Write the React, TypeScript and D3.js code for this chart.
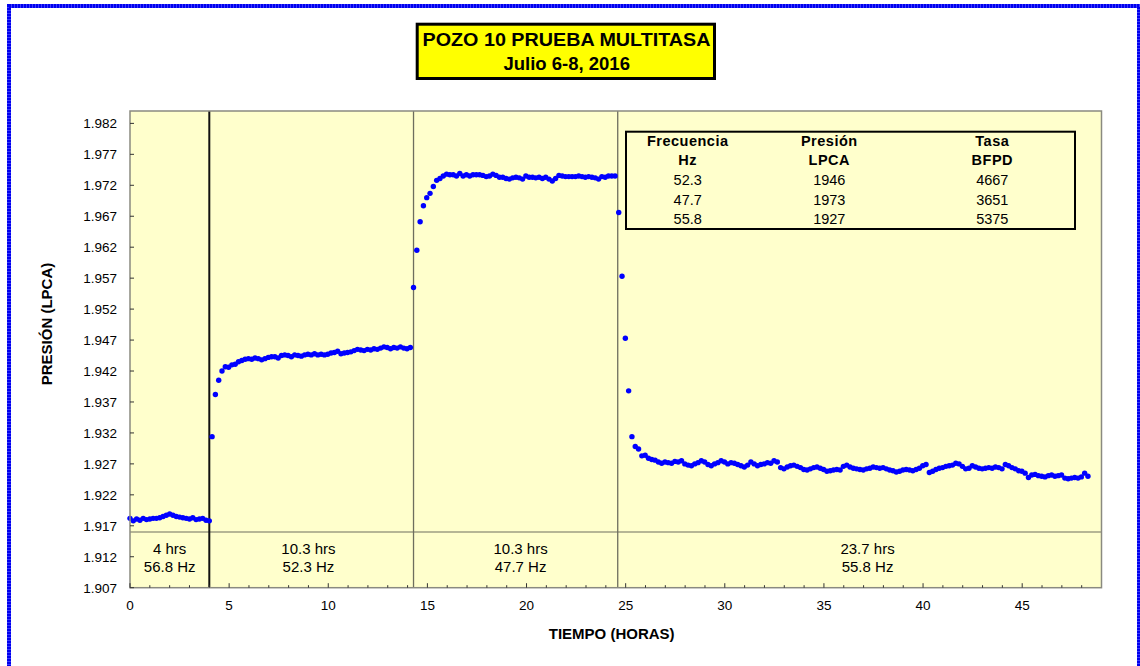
import React from "react";
import * as d3 from "d3";

// ---- data ----
const SAMPLE_STEP_HR = 1 / 6; // 10-minute logging interval

const SEG1_START = 0;
const SEG1 = [
  1.9182, 1.9178, 1.9181, 1.9179, 1.9182, 1.918, 1.9181, 1.9182, 1.9182, 1.9183,
  1.9185, 1.9187, 1.9189, 1.9187, 1.9185, 1.9184, 1.9183, 1.9182, 1.9181, 1.9183,
  1.918, 1.9181, 1.9182, 1.9179, 1.9178,
];

const SEG2_START = 4.14;
const SEG2 = [
  1.9314, 1.9382, 1.9405, 1.942, 1.9427, 1.9426, 1.943, 1.9431, 1.9435, 1.9437,
  1.9439, 1.944, 1.9439, 1.9441, 1.944, 1.9438, 1.944, 1.9442, 1.9443, 1.9443,
  1.9441, 1.9445, 1.9446, 1.9445, 1.9443, 1.9446, 1.9445, 1.9444, 1.9446, 1.9447,
  1.9446, 1.9448, 1.9446, 1.9447, 1.9446, 1.9447, 1.9449, 1.945, 1.9452, 1.9448,
  1.9449, 1.945, 1.9451, 1.9453, 1.9455, 1.9454, 1.9453, 1.9455, 1.9454, 1.9456,
  1.9455, 1.9457, 1.9459, 1.9458, 1.9456, 1.9458, 1.9457, 1.9459, 1.9457, 1.9456,
  1.9458,
];

const SEG3_START = 14.3;
const SEG3 = [
  1.9555, 1.9615, 1.9661, 1.9687, 1.97, 1.9707, 1.9718, 1.9728, 1.9731, 1.9735,
  1.9738, 1.9737, 1.9737, 1.9735, 1.9739, 1.9735, 1.9737, 1.9735, 1.9737, 1.9737,
  1.9737, 1.9736, 1.9734, 1.9735, 1.9738, 1.9736, 1.9733, 1.9733, 1.9731, 1.973,
  1.9732, 1.9733, 1.9732, 1.973, 1.9735, 1.9733, 1.9733, 1.9732, 1.9733, 1.9731,
  1.9733, 1.973, 1.9727, 1.9731, 1.9736, 1.9735, 1.9734, 1.9734, 1.9734, 1.9734,
  1.9735, 1.9734, 1.9733, 1.9734, 1.9733, 1.9732, 1.973, 1.9734, 1.9733, 1.9735,
  1.9735, 1.9735,
];

const SEG4_START = 24.65;
const SEG4 = [
  1.9676, 1.9573, 1.9473, 1.9388, 1.9314, 1.9298, 1.9294, 1.9283, 1.9284, 1.9279,
  1.9277, 1.9276, 1.9273, 1.9271, 1.9273, 1.9272, 1.9271, 1.9274, 1.9273, 1.9275,
  1.927, 1.9268, 1.9267, 1.927, 1.9272, 1.9275, 1.9273, 1.9269, 1.9267, 1.927,
  1.9272, 1.9275, 1.9273, 1.927, 1.9272, 1.9271, 1.9269, 1.9267, 1.9265, 1.9268,
  1.9273, 1.927, 1.9267, 1.9269, 1.927, 1.9272, 1.9271, 1.9275, 1.9273, 1.9264,
  1.9262, 1.9265, 1.9267, 1.9268, 1.9266, 1.9264, 1.9261, 1.926, 1.9262, 1.9264,
  1.9265, 1.9263, 1.9261, 1.9258, 1.9259, 1.926, 1.9261, 1.926, 1.9266, 1.9268,
  1.9265, 1.9263, 1.9262, 1.9261, 1.926, 1.9262, 1.9263, 1.9265, 1.9264, 1.9263,
  1.9264, 1.9262, 1.926, 1.9259, 1.9257, 1.9258, 1.926, 1.9261, 1.926, 1.9259,
  1.9261, 1.9263, 1.9267, 1.9269, 1.9256, 1.9258, 1.9261, 1.9263, 1.9264, 1.9266,
  1.9267, 1.9268, 1.9271, 1.927, 1.9266, 1.9262, 1.9263, 1.9267, 1.9265, 1.9263,
  1.9262, 1.9263, 1.9264, 1.9263, 1.9265, 1.9264, 1.9262, 1.9269, 1.9267, 1.9264,
  1.9262, 1.9259, 1.9258, 1.9255, 1.9248, 1.9252, 1.9253, 1.9251, 1.925, 1.9249,
  1.9251, 1.9252, 1.925, 1.9251, 1.9252, 1.9247, 1.9246, 1.9247, 1.9248, 1.9247,
  1.9249, 1.9255, 1.925,
];

const RATE_CHANGE_HRS = [4, 14.3, 24.6];
const SEPARATOR_PRESSURE = 1.916;

const PERIOD_CENTER_HRS = [2, 9.0, 19.7, 37.2];
const PERIOD_DURATIONS = ["4 hrs", "10.3 hrs", "10.3 hrs", "23.7 hrs"];
const PERIOD_FREQS = ["56.8 Hz", "52.3 Hz", "47.7 Hz", "55.8 Hz"];

const TABLE_HEAD_1 = ["Frecuencia", "Presión", "Tasa"];
const TABLE_HEAD_2 = ["Hz", "LPCA", "BFPD"];
const TABLE_FREQ = ["52.3", "47.7", "55.8"];
const TABLE_PRES = ["1946", "1973", "1927"];
const TABLE_RATE = ["4667", "3651", "5375"];

const X_TICKS = [0, 5, 10, 15, 20, 25, 30, 35, 40, 45];
const X_MINOR = d3.range(0, 49, 1);
const Y_TICKS = [
  1.907, 1.912, 1.917, 1.922, 1.927, 1.932, 1.937, 1.942, 1.947, 1.952, 1.957,
  1.962, 1.967, 1.972, 1.977, 1.982,
];

const TITLE_1 = "POZO 10 PRUEBA MULTITASA";
const TITLE_2 = "Julio 6-8, 2016";
const X_TITLE = "TIEMPO (HORAS)";
const Y_TITLE = "PRESIÓN (LPCA)";

// ---- layout ----
const W = 1140;
const H = 666;
const PL = 130;
const PR = 1101.5;
const PT = 111;
const PB = 587.7;
const FONT = "Arial, 'Liberation Sans', Helvetica, sans-serif";

export default function App() {
  const x = d3.scaleLinear().domain([0, 49]).range([PL, PR]);
  const y = d3.scaleLinear().domain([1.907, 1.984]).range([PB, PT]);

  const segments = [
    { start: SEG1_START, values: SEG1 },
    { start: SEG2_START, values: SEG2 },
    { start: SEG3_START, values: SEG3 },
    { start: SEG4_START, values: SEG4 },
  ];
  const points = segments.flatMap((s) =>
    s.values.map((v, i) => ({ t: s.start + i * SAMPLE_STEP_HR, v }))
  );
  const fmtY = d3.format(".3f");

  const colX = [687.7, 829.3, 992.3];
  const tableRows = TABLE_FREQ.map((f, i) => [f, TABLE_PRES[i], TABLE_RATE[i]]);

  return (
    <svg
      width={W}
      height={H}
      style={{ position: "absolute", left: 0, top: 0, display: "block", background: "#fff" }}
      fontFamily={FONT}
    >
      <rect x={0} y={0} width={W} height={H} fill="#fff" />
      {/* outer border */}
      <rect x={9} y={6} width={1130} height={720} fill="none" stroke="#3c3cff" strokeWidth={4} />
      <rect
        x={9}
        y={6}
        width={1130}
        height={720}
        fill="none"
        stroke="#0000ee"
        strokeWidth={4}
        strokeDasharray="2 1"
      />

      {/* plot area */}
      <rect x={PL} y={PT} width={PR - PL} height={PB - PT} fill="#FFFFCC" />

      {/* separator line */}
      <line x1={PL} x2={PR} y1={y(SEPARATOR_PRESSURE)} y2={y(SEPARATOR_PRESSURE)} stroke="#6e6e5e" strokeWidth={1.2} />

      {/* rate change lines */}
      {RATE_CHANGE_HRS.map((t, i) => (
        <line
          key={i}
          x1={x(t)}
          x2={x(t)}
          y1={PT}
          y2={PB}
          stroke={i === 0 ? "#111" : "#6e6e5e"}
          strokeWidth={i === 0 ? 2 : 1.3}
        />
      ))}

      {/* points */}
      {points.map((p, i) => (
        <circle key={i} cx={x(p.t)} cy={y(p.v)} r={2.7} fill="#0000FF" />
      ))}

      {/* frame */}
      <rect x={PL} y={PT} width={PR - PL} height={PB - PT} fill="none" stroke="#8a8a80" strokeWidth={1.5} />

      {/* x ticks */}
      {X_MINOR.map((t) => (
        <line key={"m" + t} x1={x(t)} x2={x(t)} y1={PB} y2={PB - (t % 5 === 0 ? 4.5 : 2.5)} stroke="#333" strokeWidth={1} />
      ))}
      {X_TICKS.map((t) => (
        <text key={"xl" + t} x={x(t)} y={609.5} fontSize={13.5} textAnchor="middle" fill="#000">
          {t}
        </text>
      ))}

      {/* y ticks */}
      {Y_TICKS.map((v) => (
        <g key={"y" + v}>
          <line x1={PL} x2={PL + 4} y1={y(v)} y2={y(v)} stroke="#333" strokeWidth={1} />
          <text x={117} y={y(v) + 5} fontSize={13.5} textAnchor="end" fill="#000">
            {fmtY(v)}
          </text>
        </g>
      ))}

      {/* period labels */}
      {PERIOD_CENTER_HRS.map((t, i) => (
        <g key={"p" + i}>
          <text x={x(t)} y={554} fontSize={15} textAnchor="middle" fill="#000">
            {PERIOD_DURATIONS[i]}
          </text>
          <text x={x(t)} y={571.7} fontSize={15} textAnchor="middle" fill="#000">
            {PERIOD_FREQS[i]}
          </text>
        </g>
      ))}

      {/* axis titles */}
      <text x={611.7} y={639.3} fontSize={15} fontWeight="bold" textAnchor="middle" fill="#000">
        {X_TITLE}
      </text>
      <text
        x={0}
        y={0}
        transform={`translate(52,324) rotate(-90)`}
        fontSize={15}
        fontWeight="bold"
        textAnchor="middle"
        fill="#000"
      >
        {Y_TITLE}
      </text>

      {/* title box */}
      <rect x={417.2} y={24.2} width={297.3} height={54.3} fill="#FFFF00" stroke="#000" strokeWidth={3} />
      <text x={566.5} y={46.3} fontSize={18.5} fontWeight="bold" textAnchor="middle" fill="#000" textLength={288} lengthAdjust="spacingAndGlyphs">
        {TITLE_1}
      </text>
      <text x={566.7} y={70} fontSize={18.5} fontWeight="bold" textAnchor="middle" fill="#000">
        {TITLE_2}
      </text>

      {/* table */}
      <rect x={626} y={131.7} width={449} height={97.3} fill="none" stroke="#000" strokeWidth={2} />
      {TABLE_HEAD_1.map((h, i) => (
        <text key={"h1" + i} x={colX[i]} y={146} fontSize={14.5} fontWeight="bold" letterSpacing={0.5} textAnchor="middle" fill="#000">
          {h}
        </text>
      ))}
      {TABLE_HEAD_2.map((h, i) => (
        <text key={"h2" + i} x={colX[i]} y={165.3} fontSize={14.5} fontWeight="bold" letterSpacing={0.5} textAnchor="middle" fill="#000">
          {h}
        </text>
      ))}
      {tableRows.map((row, r) =>
        row.map((c, i) => (
          <text key={"r" + r + i} x={colX[i]} y={185 + r * 19.5} fontSize={14.5} textAnchor="middle" fill="#000">
            {c}
          </text>
        ))
      )}
    </svg>
  );
}
